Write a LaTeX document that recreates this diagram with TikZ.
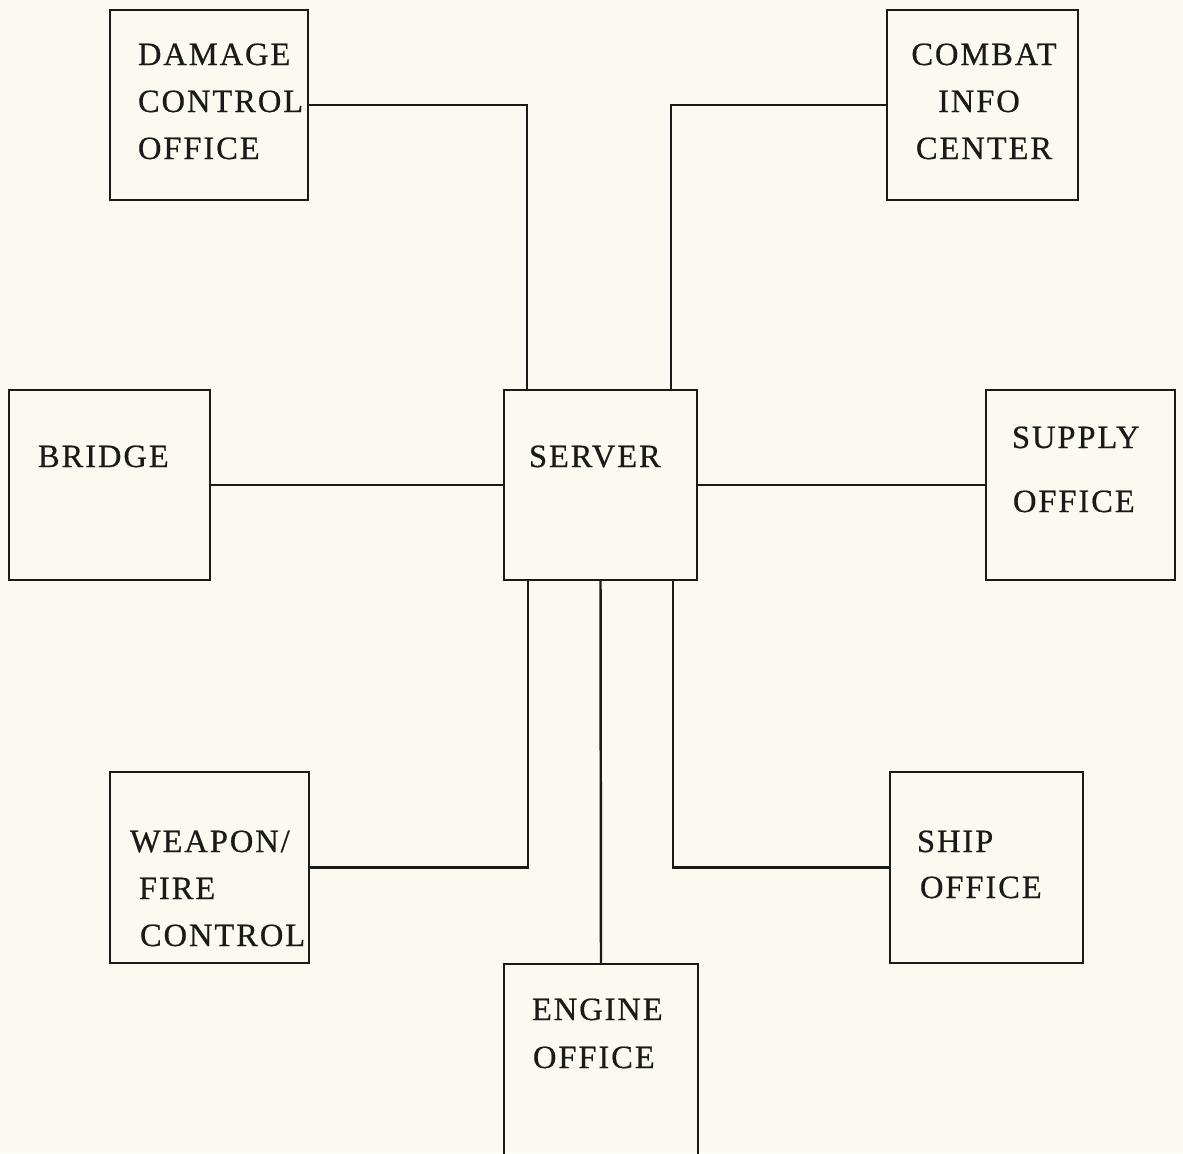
\documentclass[tikz,border=0pt]{standalone}
\usepackage{fontspec}
\setmainfont{Liberation Serif}[LetterSpace=6,FakeBold=0.6]
\definecolor{paper}{RGB}{250,250,241}
\definecolor{ink}{RGB}{28,26,24}
\begin{document}
\begin{tikzpicture}[x=0.02cm,y=-0.02cm,
  box/.style={draw=ink, line width=1.4pt, rectangle, inner sep=0pt, outer sep=0pt},
  lbl/.style={inner sep=0pt, outer sep=0pt, text=ink, font=\fontsize{18.5}{22}\selectfont},
  wire/.style={draw=ink, line width=1.4pt}]
\useasboundingbox (0,0) rectangle (1183,1153);
\fill[paper] (0,0) rectangle (1183,1153);
\clip (0,0) rectangle (1183,1153);
% boxes
\node[box, minimum width=3.96cm, minimum height=3.8cm] (dco) at (209,105) {};
\node[box, minimum width=3.82cm, minimum height=3.8cm] (cic) at (982.5,105) {};
\node[box, minimum width=4.02cm, minimum height=3.8cm] (bridge) at (109.5,485) {};
\node[box, minimum width=3.86cm, minimum height=3.8cm] (server) at (600.5,485) {};
\node[box, minimum width=3.78cm, minimum height=3.8cm] (supply) at (1080.5,485) {};
\node[box, minimum width=3.98cm, minimum height=3.82cm] (weapon) at (209.5,867.5) {};
\node[box, minimum width=3.86cm, minimum height=3.82cm] (ship) at (986.5,867.5) {};
\node[box, minimum width=3.88cm, minimum height=3.92cm] (engine) at (601,1062) {};
% labels
\node[lbl, anchor=base west] (t1) at (138,65) {DAMAGE};
\node[lbl, anchor=base west] (t2) at (138,112) {CONTROL};
\node[lbl, anchor=base west] (t3) at (138,159) {OFFICE};
\node[lbl, anchor=base] (t4) at (984,65) {COMBAT};
\node[lbl, anchor=base] (t5) at (979,112) {INFO};
\node[lbl, anchor=base] (t6) at (984,159) {CENTER};
\node[lbl, anchor=base west] (t7) at (38,467) {BRIDGE};
\node[lbl, anchor=base west] (t8) at (529,467) {SERVER};
\node[lbl, anchor=base west] (t9) at (1012,448) {SUPPLY};
\node[lbl, anchor=base west] (t10) at (1013,512) {OFFICE};
\node[lbl, anchor=base west] (t11) at (130,852) {WEAPON/};
\node[lbl, anchor=base west] (t12) at (139,899) {FIRE};
\node[lbl, anchor=base west] (t13) at (140,946) {CONTROL};
\node[lbl, anchor=base west] (t14) at (917,852) {SHIP};
\node[lbl, anchor=base west] (t15) at (920,898) {OFFICE};
\node[lbl, anchor=base west] (t16) at (532,1020) {ENGINE};
\node[lbl, anchor=base west] (t17) at (533,1068) {OFFICE};
% connectors
\draw[wire] (dco.east) -| ([xshift=0.46cm]server.north west);
\draw[wire] (cic.west) -| ([xshift=-0.52cm]server.north east);
\draw[wire] (bridge.east) -- (server.west);
\draw[wire] (server.east) -- (supply.west);
\draw[wire] (weapon.east) -| ([xshift=0.48cm]server.south west);
\draw[wire] (ship.west) -| ([xshift=-0.48cm]server.south east);
\draw[wire] (server.south) -- (engine.north);
\end{tikzpicture}
\end{document}
